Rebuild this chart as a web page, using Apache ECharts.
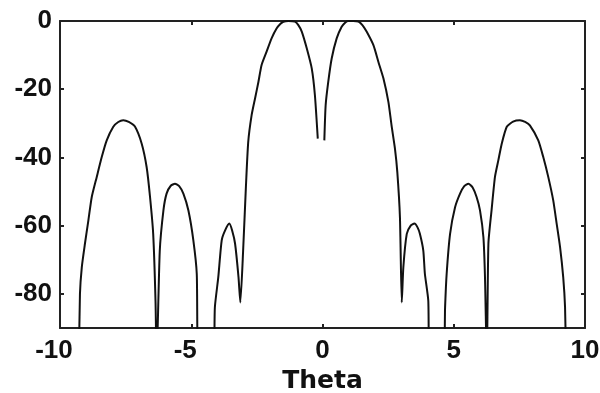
<!DOCTYPE html>
<html>
<head>
<meta charset="utf-8">
<script src="https://cdn.jsdelivr.net/npm/echarts@6/dist/echarts.min.js"></script>
<style>
  html, body { margin: 0; padding: 0; background: #fff; }
  #chart { width: 600px; height: 393px; }
</style>
</head>
<body>
<div id="chart"></div>
<script>
// Angle samples (theta) and pattern level in dB; null marks a break in the trace
const theta = [
  -9.28, -9.24, -9.17, -9.05, -8.92, -8.79, -8.6, -8.41, -8.22, -7.97, -7.78, -7.59, -7.38, -7.14, -6.89, -6.7, -6.57, -6.45, -6.36, -6.32,
  -6.2, -6.06, -5.94, -5.78, -5.62, -5.46, -5.3, -5.11, -4.92, -4.79, -4.72,
  -4.17, -4.1, -3.97, -3.84, -3.71, -3.55, -3.44, -3.33, -3.2, -3.13,
  -3.02, -2.92, -2.83, -2.7, -2.57, -2.44, -2.32, -2.13, -1.94, -1.75, -1.6, -1.49, -1.3, -1.05, -0.92, -0.79, -0.6, -0.41, -0.29, -0.18,
  -0.05,
  0.07, 0.12, 0.22, 0.35, 0.54, 0.73, 0.86, 0.98, 1.17, 1.37, 1.52, 1.68, 1.94, 2.13, 2.32, 2.51, 2.63, 2.76, 2.85, 2.95, 3.02,
  3.08, 3.21, 3.36, 3.5, 3.62, 3.71, 3.84, 3.9, 4.03, 4.08,
  4.6, 4.67, 4.73, 4.86, 5.05, 5.24, 5.4, 5.56, 5.72, 5.87, 6.0, 6.13, 6.19, 6.26,
  6.32, 6.44, 6.57, 6.7, 6.83, 7.02, 7.26, 7.52, 7.72, 7.9, 8.22, 8.41, 8.6, 8.79, 8.92, 9.05, 9.17, 9.24, 9.28
];
const levelDb = [
  -100, -80, -72.2, -65.3, -58.5, -51.6, -45.7, -39.9, -35, -31, -29.6, -29.1, -29.6, -31, -35.9, -42.8, -51.6, -62.4, -82.5, -100,
  -67.5, -55.5, -50.6, -48.3, -47.7, -48.4, -50.6, -55.5, -64.3, -74.1, -100,
  -100, -83.9, -75.1, -64.3, -61.4, -59.4, -61.5, -65.3, -75.1, -82.5,
  -66.7, -49, -35.5, -27.6, -22.7, -17.8, -12.9, -9, -5.1, -2.2, -0.8, -0.2, 0, -0.2, -1.2, -3.1, -8, -13.9, -21.7, -34.5,
  null,
  -35, -24.7, -17.8, -11, -5.1, -1.7, -0.5, 0, 0, -0.2, -1.2, -3.1, -7.1, -12, -16.8, -23.7, -30.6, -37.4, -44.3, -57.5, -82.5,
  -72.2, -62.4, -60, -59.4, -60.5, -62.4, -67.3, -74.1, -82, -100,
  -100, -83.9, -74.1, -62.4, -54.6, -50.6, -48.4, -47.7, -48.8, -51.6, -55.5, -63.4, -75.1, -100,
  -65.3, -55.5, -45.7, -40.8, -35.9, -31, -29.5, -29.1, -29.6, -30.6, -35, -39.9, -45.7, -52.6, -59.4, -66.3, -75.1, -83.9, -100
];

// Tick positions
const xTicks = [-10, -5, 0, 5, 10];
const yTicks = [-80, -60, -40, -20, 0];

const points = theta.map((t, i) => [t, levelDb[i] === null ? '-' : levelDb[i]]);

const labelFont = {
  fontFamily: '"Liberation Sans", Arial, sans-serif',
  fontWeight: 'bold',
  fontSize: 26,
  color: '#111'
};
const axisLine = { show: true, onZero: false, lineStyle: { color: '#222', width: 2 } };
const tickStyle = { color: '#222', width: 2 };

const chart = echarts.init(document.getElementById('chart'), null, { renderer: 'canvas' });
chart.setOption({
  animation: false,
  backgroundColor: '#fff',
  grid: { left: 60, right: 15, top: 21, bottom: 65, containLabel: false, outerBoundsMode: 'none' },
  xAxis: [
    {
      type: 'value', min: -10, max: 10, interval: 5,
      axisLine: axisLine,
      axisTick: { show: true, inside: true, length: 4, customValues: xTicks, lineStyle: tickStyle },
      axisLabel: Object.assign({
        margin: 10,
        customValues: xTicks,
        // negative labels sit a little left of their tick
        formatter: v => (v < 0 ? '{neg|' + v + '}' : String(v)),
        rich: { neg: Object.assign({ padding: [0, 12, 0, 0] }, labelFont) }
      }, labelFont),
      splitLine: { show: false },
      name: 'Theta', nameLocation: 'middle', nameGap: 41,
      nameTextStyle: {
        fontFamily: '"DejaVu Sans", sans-serif',
        fontWeight: 'bold',
        fontSize: 25,
        color: '#111'
      }
    },
    {
      type: 'value', min: -10, max: 10, interval: 5, position: 'top',
      axisLine: axisLine,
      axisTick: { show: true, inside: true, length: 4, customValues: xTicks, lineStyle: tickStyle },
      axisLabel: { show: false },
      splitLine: { show: false }
    }
  ],
  yAxis: [
    {
      type: 'value', min: -90, max: 0,
      axisLine: axisLine,
      axisTick: { show: true, inside: true, length: 4, customValues: yTicks, lineStyle: tickStyle },
      axisLabel: Object.assign({ margin: 8, customValues: yTicks }, labelFont),
      splitLine: { show: false }
    },
    {
      type: 'value', min: -90, max: 0, position: 'right',
      axisLine: axisLine,
      axisTick: { show: true, inside: true, length: 4, customValues: yTicks, lineStyle: tickStyle },
      axisLabel: { show: false },
      splitLine: { show: false }
    }
  ],
  series: [
    {
      type: 'line',
      data: points,
      xAxisIndex: 0, yAxisIndex: 0,
      showSymbol: false,
      connectNulls: false,
      clip: true,
      smooth: 0.2,
      lineStyle: { color: '#111', width: 2 }
    }
  ]
});
</script>
</body>
</html>
